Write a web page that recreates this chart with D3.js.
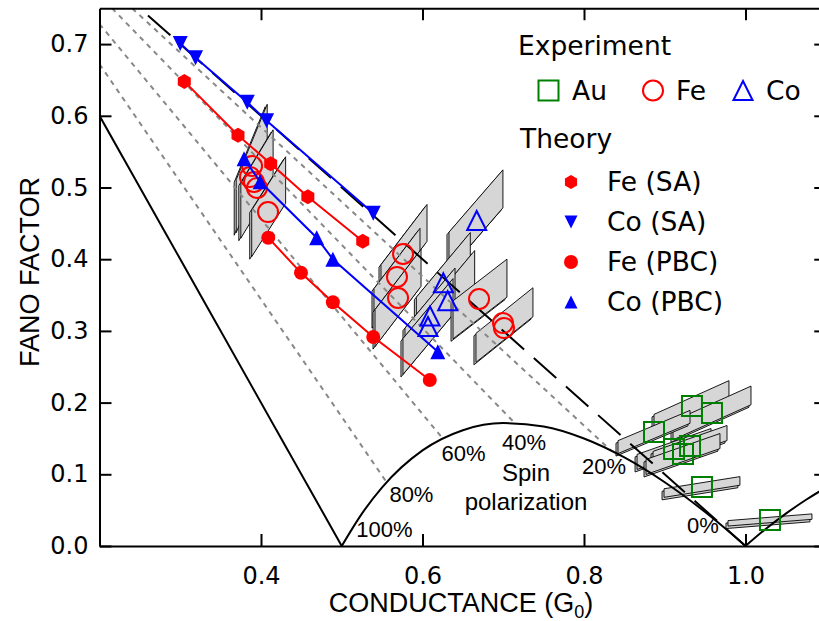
<!DOCTYPE html>
<html><head><meta charset="utf-8">
<script src="https://cdn.jsdelivr.net/npm/d3@7"></script>
<style>body{margin:0;background:#fff}svg{display:block}</style>
</head><body>
<svg id="c" width="819" height="621"></svg>
<script>
// ---------- data ----------
const xTicks = [0.4, 0.6, 0.8, 1.0];
const yTicks = [0.0, 0.1, 0.2, 0.3, 0.4, 0.5, 0.6, 0.7];

// theory series
const feSA_G  = [0.305, 0.3715, 0.412, 0.458, 0.526];
const feSA_F  = [0.648, 0.573, 0.533, 0.487, 0.425];
const coSA_G  = [0.300, 0.319, 0.383, 0.407, 0.539];
const coSA_F  = [0.701, 0.681, 0.619, 0.593, 0.464];
const fePBC_G = [0.409, 0.4495, 0.489, 0.539, 0.609];
const fePBC_F = [0.430, 0.381, 0.340, 0.2915, 0.2315];
const coPBC_G = [0.379, 0.399, 0.469, 0.489, 0.619];
const coPBC_F = [0.540, 0.508, 0.430, 0.400, 0.271];

// experiment
const feExpG = [0.3889, 0.3864, 0.3913, 0.3950, 0.4087, 0.5759, 0.5684, 0.5697, 0.6700, 0.6997, 0.7009];
const feExpF = [0.530, 0.5146, 0.5077, 0.4993, 0.4658, 0.4073, 0.3752, 0.3459, 0.3445, 0.3110, 0.3040];
const coExpG = [0.6671, 0.6258, 0.6312, 0.6093, 0.6068];
const coExpF = [0.454, 0.367, 0.342, 0.3208, 0.3061];
const auExpG = [0.9337, 0.9585, 0.8867, 0.9115, 0.9313, 0.9226, 0.9461, 1.0303];
const auExpF = [0.1953, 0.1855, 0.1590, 0.1353, 0.1395, 0.1283, 0.0823, 0.0363];

// error parallelograms: centre, half-width (G), half-height (F), slope dF/dG
const boxG  = [0.3885, 0.3950, 0.4095, 0.5771, 0.5684, 0.5697, 0.6662, 0.6258, 0.6312, 0.6093, 0.6068, 0.6712, 0.7015,
               0.9331, 0.9585, 0.8867, 0.9115, 0.9313, 0.9226, 0.9461, 1.0303];
const boxF  = [0.5265, 0.5049, 0.4732, 0.4086, 0.3752, 0.3459, 0.4547, 0.3671, 0.342, 0.3208, 0.3061, 0.3445, 0.3082,
               0.1946, 0.1855, 0.1590, 0.1353, 0.1395, 0.1283, 0.0823, 0.0363];
const boxDG = [0.0192, 0.020, 0.021, 0.0285, 0.0285, 0.0285, 0.0334, 0.0334, 0.0334, 0.031, 0.031, 0.0334, 0.0353,
               0.0464, 0.0483, 0.0446, 0.0458, 0.0458, 0.0458, 0.047, 0.052];
const boxDF = [0.037, 0.0384, 0.0325, 0.0258, 0.0258, 0.0258, 0.0265, 0.025, 0.025, 0.025, 0.025, 0.0265, 0.0202,
               0.0125, 0.0130, 0.0090, 0.0105, 0.0105, 0.0105, 0.0060, 0.0038];
const boxK  = [2.74, 1.86, 1.77, 1.475, 1.475, 1.475, 1.30, 1.35, 1.35, 1.35, 1.35, 0.87, 0.90,
               0.507, 0.507, 0.473, 0.394, 0.394, 0.394, 0.18, 0.09];

// theoretical lines F = 1 - G(1+P^2) (end points), P = 0.8, 0.6, 0.4, 0.2
const polG0 = [0.2, 0.2, 0.2155, 0.2404];
const polF0 = [0.672, 0.728, 0.75, 0.75];
const polG1 = [0.5556, 0.625, 0.7143, 0.8333];
const polF1 = [0.0889, 0.15, 0.1714, 0.1333];
// fully polarized line, unpolarized (dashed) line
const fullG = [0.2, 0.5],  fullF = [0.6, 0.0];
const zeroG = [0.26, 1.0], zeroF = [0.74, 0.0];
// lower bound dome
const domeG = [0.5, 0.525, 0.55, 0.6, 0.65, 0.7, 0.75, 0.8, 0.85, 0.9, 0.95, 0.975, 1.0];
const domeF = [0, 0.0452, 0.0818, 0.1333, 0.1615, 0.1714, 0.1667, 0.15, 0.1235, 0.0889, 0.0474, 0.0244, 0];
// beyond G0
const rightG = [1.0, 1.025, 1.05, 1.075, 1.1];
const rightF = [0, 0.0238, 0.0452, 0.0645, 0.0818];

// annotation labels
const polLabels = ["100%", "80%", "60%", "40%", "20%", "0%"];
const polLabG   = [0.518, 0.559, 0.6235, 0.6985, 0.7975, 0.9275];
const polLabF   = [0.0126, 0.0614, 0.1186, 0.1339, 0.1004, 0.0181];

// ---------- drawing ----------
const svg = d3.select("#c");
const x = d3.scaleLinear().domain([0.2, 1.1]).range([99.5, 826.25]);
const y = d3.scaleLinear().domain([0, 0.75]).range([546, 8.25]);
const RED = "#ff0000", BLUE = "#0000ff", GREEN = "#008000";

svg.append("defs").append("clipPath").attr("id", "clip")
  .append("rect").attr("x", x(0.2)).attr("y", y(0.75))
  .attr("width", x(1.1) - x(0.2)).attr("height", y(0) - y(0.75));
const plot = svg.append("g").attr("clip-path", "url(#clip)");

// boxes
const boxes = boxG.map((g, i) => ({g, f: boxF[i], dg: boxDG[i], df: boxDF[i], k: boxK[i]}));
function boxPts(b) {
  return [[b.g - b.dg, b.f - b.k * b.dg + b.df], [b.g + b.dg, b.f + b.k * b.dg + b.df],
          [b.g + b.dg, b.f + b.k * b.dg - b.df], [b.g - b.dg, b.f - b.k * b.dg - b.df]]
    .map(p => [x(p[0]), y(p[1])]);
}
boxes.forEach(b => {
  const pts = boxPts(b);
  plot.append("polygon").attr("points", pts.map(p => [p[0] - 2, p[1] + 2.5].join(",")).join(" "))
    .attr("fill", "#cfcfcf").attr("stroke", "#000").attr("stroke-width", 0.9);
  plot.append("polygon").attr("points", pts.map(p => p.join(",")).join(" "))
    .attr("fill", "#d6d6d6").attr("stroke", "#000").attr("stroke-width", 0.9);
});

const line = d3.line().x(d => x(d[0])).y(d => y(d[1]));
// dotted polarization lines
polG0.forEach((g, i) => {
  plot.append("path").attr("d", line([[g, polF0[i]], [polG1[i], polF1[i]]]))
    .attr("stroke", "#888").attr("stroke-width", 2).attr("stroke-dasharray", "5,5").attr("fill", "none");
});
plot.append("path").attr("d", line(fullG.map((g, i) => [g, fullF[i]])))
  .attr("stroke", "#000").attr("stroke-width", 2).attr("fill", "none");
plot.append("path").attr("d", line(zeroG.map((g, i) => [g, zeroF[i]])))
  .attr("stroke", "#000").attr("stroke-width", 2).attr("stroke-dasharray", "30,13").attr("fill", "none");
plot.append("path").attr("d", line.curve(d3.curveMonotoneX)(domeG.map((g, i) => [g, domeF[i]])))
  .attr("stroke", "#000").attr("stroke-width", 2).attr("fill", "none");
plot.append("path").attr("d", line.curve(d3.curveMonotoneX)(rightG.map((g, i) => [g, rightF[i]])))
  .attr("stroke", "#000").attr("stroke-width", 2).attr("fill", "none");
line.curve(d3.curveLinear);

// marker shapes
function triUp(s) { return `M0,${-s/2}L${s/2},${s/2}L${-s/2},${s/2}Z`; }
function triDown(s) { return `M0,${s/2}L${s/2},${-s/2}L${-s/2},${-s/2}Z`; }
function hexa(r) { return d3.range(6).map(i => { const a = Math.PI / 3 * i - Math.PI / 2; return (i ? "L" : "M") + (r * Math.cos(a)) + "," + (r * Math.sin(a)); }).join("") + "Z"; }
function square(s) { return `M${-s/2},${-s/2}H${s/2}V${s/2}H${-s/2}Z`; }
function circ(r) { return `M${r},0A${r},${r} 0 1,1 ${-r},0A${r},${r} 0 1,1 ${r},0Z`; }

// experiment markers
function openMarkers(G, F, path, color) {
  plot.append("g").selectAll("path").data(G.map((g, i) => [g, F[i]])).join("path")
    .attr("transform", d => `translate(${x(d[0])},${y(d[1])})`).attr("d", path)
    .attr("fill", "none").attr("stroke", color).attr("stroke-width", 2);
}
openMarkers(auExpG, auExpF, square(20), GREEN);
openMarkers(feExpG, feExpF, circ(10), RED);
openMarkers(coExpG, coExpF, triUp(19), BLUE);

// theory series
function series(G, F, path, color) {
  const pts = G.map((g, i) => [g, F[i]]);
  plot.append("path").attr("d", line(pts)).attr("stroke", color).attr("stroke-width", 2).attr("fill", "none");
  plot.append("g").selectAll("path").data(pts).join("path")
    .attr("transform", d => `translate(${x(d[0])},${y(d[1])})`).attr("d", path).attr("fill", color);
}
series(feSA_G, feSA_F, hexa(7.5), RED);
series(coSA_G, coSA_F, triDown(15), BLUE);
series(fePBC_G, fePBC_F, circ(7), RED);
series(coPBC_G, coPBC_F, triUp(15), BLUE);

// annotation labels
const ann = svg.append("g").attr("font-family", "Liberation Sans, Arial, sans-serif").attr("fill", "#000");
polLabels.forEach((t, i) => ann.append("text").attr("x", x(polLabG[i])).attr("y", y(polLabF[i]))
  .attr("font-size", 22).text(t));
ann.append("text").attr("x", x(0.7282)).attr("y", y(0.0907)).attr("text-anchor", "middle").attr("font-size", 24).text("Spin");
ann.append("text").attr("x", x(0.7282)).attr("y", y(0.0502)).attr("text-anchor", "middle").attr("font-size", 24).text("polarization");

// axes
const axG = svg.append("g").attr("font-family", "DejaVu Sans, sans-serif");
function styleAxis(g, labels) {
  g.select(".domain").attr("stroke-width", 2);
  g.selectAll(".tick line").attr("stroke-width", 2);
  g.selectAll(".tick text").attr("font-size", 24).attr("font-family", "DejaVu Sans, sans-serif").attr("fill", "#000");
  if (!labels) g.selectAll(".tick text").remove();
}
axG.append("g").attr("transform", `translate(0,${y(0)})`)
  .call(d3.axisBottom(x).tickValues(xTicks).tickSize(-12).tickSizeOuter(0).tickPadding(21).tickFormat(d3.format(".1f")))
  .call(g => styleAxis(g, true));
axG.append("g").attr("transform", `translate(0,${y(0.75)})`)
  .call(d3.axisTop(x).tickValues(xTicks).tickSize(-12).tickSizeOuter(0))
  .call(g => styleAxis(g, false));
axG.append("g").attr("transform", `translate(${x(0.2)},0)`)
  .call(d3.axisLeft(y).tickValues(yTicks).tickSize(-12).tickSizeOuter(0).tickPadding(11).tickFormat(d3.format(".1f")))
  .call(g => styleAxis(g, true));
axG.append("g").attr("transform", `translate(${x(1.1)},0)`)
  .call(d3.axisRight(y).tickValues(yTicks).tickSize(-12).tickSizeOuter(0))
  .call(g => styleAxis(g, false));

// axis titles
const xt = svg.append("text").attr("x", 461).attr("y", 612).attr("text-anchor", "middle")
  .attr("font-family", "Liberation Sans, Arial, sans-serif").attr("font-size", 27);
xt.append("tspan").text("CONDUCTANCE (G");
xt.append("tspan").attr("font-size", 18).attr("dy", 6).text("0");
xt.append("tspan").attr("dy", -6).text(")");
svg.append("text").attr("transform", "translate(39,272) rotate(-90)").attr("text-anchor", "middle")
  .attr("font-family", "Liberation Sans, Arial, sans-serif").attr("font-size", 27).text("FANO FACTOR");

// legend
const lg = svg.append("g").attr("font-family", "DejaVu Sans, sans-serif").attr("font-size", 26.5).attr("fill", "#000");
lg.append("text").attr("x", 518).attr("y", 55).text("Experiment");
const expLeg = [["Au", square(20), GREEN, 548.5, 572], ["Fe", circ(10), RED, 653, 676], ["Co", triUp(19), BLUE, 743, 766]];
expLeg.forEach(d => {
  lg.append("path").attr("d", d[1]).attr("transform", `translate(${d[3]},90.5)`)
    .attr("fill", "none").attr("stroke", d[2]).attr("stroke-width", 2);
  lg.append("text").attr("x", d[4]).attr("y", 100).text(d[0]);
});
lg.append("text").attr("x", 520).attr("y", 148).text("Theory");
const thLeg = [["Fe (SA)", hexa(7), RED], ["Co (SA)", triDown(13), BLUE], ["Fe (PBC)", circ(7), RED], ["Co (PBC)", triUp(13), BLUE]];
thLeg.forEach((d, i) => {
  lg.append("path").attr("d", d[1]).attr("transform", `translate(571,${182 + 40 * i})`).attr("fill", d[2]);
  lg.append("text").attr("x", 607).attr("y", 191 + 40 * i).text(d[0]);
});
</script>
</body></html>
